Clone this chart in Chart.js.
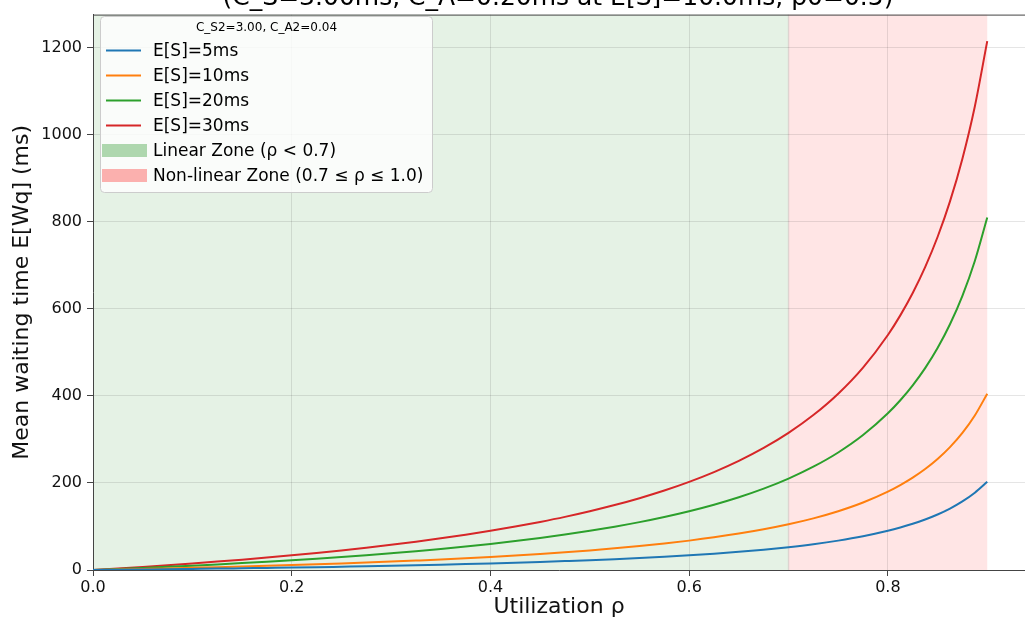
<!DOCTYPE html>
<html>
<head>
<meta charset="utf-8">
<title>Mean waiting time vs utilization</title>
<script src="https://cdn.jsdelivr.net/npm/chart.js@4.4.1/dist/chart.umd.min.js"></script>
<style>
  html, body { margin: 0; padding: 0; background: #fff; }
  #wrap { width: 1025px; height: 620px; position: relative; }
</style>
</head>
<body>
<div id="wrap"><canvas id="wq"></canvas></div>
<script>
// utilization points and mean waiting time (ms) per service time
const rho  = [0, 0.025, 0.05, 0.075, 0.1, 0.125, 0.15, 0.175, 0.2, 0.225, 0.25, 0.275, 0.3, 0.325, 0.35, 0.375,
              0.4, 0.425, 0.45, 0.475, 0.5, 0.525, 0.55, 0.575, 0.6, 0.625, 0.65, 0.675, 0.7, 0.725, 0.75, 0.775,
              0.8, 0.8125, 0.825, 0.8375, 0.85, 0.8625, 0.875, 0.8875, 0.9];
const wq5  = [0, 0.6, 1.2, 1.8, 2.5, 3.2, 4.0, 4.8, 5.6, 6.5, 7.5, 8.5, 9.6, 10.8, 12.1, 13.5,
              15.0, 16.6, 18.4, 20.4, 22.5, 24.9, 27.5, 30.4, 33.8, 37.5, 41.8, 46.7, 52.5, 59.3, 67.5, 77.5,
              90.0, 97.5, 106.1, 116.0, 127.5, 141.1, 157.5, 177.5, 202.5];
const wq10 = [0, 1.2, 2.4, 3.6, 5.0, 6.4, 7.9, 9.5, 11.3, 13.1, 15.0, 17.1, 19.3, 21.7, 24.2, 27.0,
              30.0, 33.3, 36.8, 40.7, 45.0, 49.7, 55.0, 60.9, 67.5, 75.0, 83.6, 93.5, 105.0, 118.6, 135.0, 155.0,
              180.0, 195.0, 212.1, 231.9, 255.0, 282.3, 315.0, 355.0, 405.0];
const wq20 = [0, 2.3, 4.7, 7.3, 10.0, 12.9, 15.9, 19.1, 22.5, 26.1, 30.0, 34.1, 38.6, 43.3, 48.5, 54.0,
              60.0, 66.5, 73.6, 81.4, 90.0, 99.5, 110.0, 121.8, 135.0, 150.0, 167.1, 186.9, 210.0, 237.3, 270.0, 310.0,
              360.0, 390.0, 424.3, 463.8, 510.0, 564.5, 630.0, 710.0, 810.0];
const wq30 = [0, 3.5, 7.1, 10.9, 15.0, 19.3, 23.8, 28.6, 33.8, 39.2, 45.0, 51.2, 57.9, 65.0, 72.7, 81.0,
              90.0, 99.8, 110.5, 122.1, 135.0, 149.2, 165.0, 182.6, 202.5, 225.0, 250.7, 280.4, 315.0, 355.9, 405.0, 465.0,
              540.0, 585.0, 636.4, 695.8, 765.0, 846.8, 945.0, 1065.0, 1215.0];

const seriesLabels = ['E[S]=5ms', 'E[S]=10ms', 'E[S]=20ms', 'E[S]=30ms'];
const seriesColors = ['#1f77b4', '#ff7f0e', '#2ca02c', '#d62728'];

// shaded zones [from, to] on the utilization axis
const linearZone = [0, 0.7];
const nonlinearZone = [0.7, 0.9];
const zoneLabels = ['Linear Zone (ρ < 0.7)', 'Non-linear Zone (0.7 ≤ ρ ≤ 1.0)'];

const xTicks = [0, 0.2, 0.4, 0.6, 0.8];
const yTicks = [0, 200, 400, 600, 800, 1000, 1200];

const titleText = '(C_S=3.00ms, C_A=0.20ms at E[S]=10.0ms, ρ0=0.5)';
const legendTitle = 'C_S2=3.00, C_A2=0.04';

const FONT = "'DejaVu Sans', sans-serif";

function toPoints(ys) {
    return rho.map((r, i) => ({ x: r, y: ys[i] }));
}

const zones = [
    { range: linearZone, fill: 'rgba(0,128,0,0.1)', patch: 'rgba(0,128,0,0.3)' },
    { range: nonlinearZone, fill: 'rgba(255,0,0,0.1)', patch: 'rgba(255,0,0,0.3)' }
];

// background spans, drawn under the grid
const zonePlugin = {
    id: 'zones',
    beforeDraw(chart) {
        const { ctx, chartArea: a, scales: { x } } = chart;
        ctx.save();
        zones.forEach(z => {
            const x0 = x.getPixelForValue(z.range[0]);
            const x1 = x.getPixelForValue(z.range[1]);
            ctx.fillStyle = z.fill;
            ctx.fillRect(x0, a.top, x1 - x0, a.bottom - a.top);
        });
        // faint seam where the two spans meet
        const xs = x.getPixelForValue(nonlinearZone[0]);
        ctx.strokeStyle = 'rgba(120,100,100,0.18)';
        ctx.lineWidth = 1.5;
        ctx.beginPath();
        ctx.moveTo(xs, a.top);
        ctx.lineTo(xs, a.bottom);
        ctx.stroke();
        ctx.restore();
    }
};

// top spine, clipped title and in-axes legend
const decorPlugin = {
    id: 'decor',
    afterDraw(chart) {
        const { ctx, chartArea: a } = chart;
        ctx.save();

        ctx.strokeStyle = '#444';
        ctx.lineWidth = 1;
        ctx.beginPath();
        ctx.moveTo(a.left, a.top + 0.5);
        ctx.lineTo(a.right, a.top + 0.5);
        ctx.stroke();

        ctx.fillStyle = '#000';
        ctx.font = '25px ' + FONT;
        ctx.textAlign = 'center';
        ctx.textBaseline = 'alphabetic';
        ctx.fillText(titleText, (a.left + a.right) / 2 - 1, 5);

        // legend box
        const bx = 100.5, by = 16.5, bw = 332, bh = 176;
        ctx.fillStyle = 'rgba(255,255,255,0.8)';
        ctx.strokeStyle = '#cccccc';
        ctx.lineWidth = 1;
        ctx.beginPath();
        ctx.roundRect(bx, by, bw, bh, 4);
        ctx.fill();
        ctx.stroke();

        ctx.fillStyle = '#000';
        ctx.font = '12px ' + FONT;
        ctx.textAlign = 'center';
        ctx.textBaseline = 'middle';
        ctx.fillText(legendTitle, bx + bw / 2, 28);

        ctx.font = '17px ' + FONT;
        ctx.textAlign = 'left';
        let row = 0;
        chart.data.datasets.forEach(ds => {
            const y = 50.5 + row * 25;
            ctx.strokeStyle = ds.borderColor;
            ctx.lineWidth = 2;
            ctx.beginPath();
            ctx.moveTo(106, y);
            ctx.lineTo(141, y);
            ctx.stroke();
            ctx.fillStyle = '#000';
            ctx.fillText(ds.label, 153, y + 1);
            row++;
        });
        zones.forEach((z, i) => {
            const y = 50.5 + row * 25;
            ctx.fillStyle = z.patch;
            ctx.fillRect(102, y - 6.5, 45, 13);
            ctx.fillStyle = '#000';
            ctx.fillText(zoneLabels[i], 153, y + 1);
            row++;
        });
        ctx.restore();
    }
};

const ctx = document.getElementById('wq').getContext('2d');
const wqChart = new Chart(ctx, {
    type: 'line',
    data: {
        datasets: [wq5, wq10, wq20, wq30].map((ys, i) => ({
            label: seriesLabels[i],
            data: toPoints(ys),
            borderColor: seriesColors[i],
            backgroundColor: seriesColors[i],
            borderWidth: 2,
            pointRadius: 0,
            cubicInterpolationMode: 'monotone',
            fill: false
        }))
    },
    options: {
        responsive: true,
        maintainAspectRatio: false,
        devicePixelRatio: 1,
        animation: false,
        layout: { padding: { top: 7, right: 0, left: 0, bottom: 0 } },
        plugins: {
            legend: { display: false },
            tooltip: { enabled: false }
        },
        scales: {
            x: {
                type: 'linear',
                min: 0,
                max: 0.938,
                afterBuildTicks: s => { s.ticks = xTicks.map(v => ({ value: v })); },
                afterFit: s => { s.height = 50; },
                grid: { color: 'rgba(0,0,0,0.1)', tickColor: '#444', tickLength: 6 },
                border: { color: '#444', width: 1 },
                ticks: {
                    padding: 2,
                    color: '#111',
                    font: { family: FONT, size: 16 },
                    callback: v => v.toFixed(1)
                },
                title: {
                    display: true,
                    text: 'Utilization ρ',
                    color: '#111',
                    font: { family: FONT, size: 22 },
                    padding: { top: 0, bottom: 0 }
                }
            },
            y: {
                type: 'linear',
                min: 0,
                max: 1276,
                afterBuildTicks: s => { s.ticks = yTicks.map(v => ({ value: v })); },
                afterFit: s => { s.width = 93; },
                grid: { color: 'rgba(0,0,0,0.1)', tickColor: '#444', tickLength: 6 },
                border: { color: '#444', width: 1 },
                ticks: {
                    padding: 5,
                    color: '#111',
                    font: { family: FONT, size: 16 },
                    callback: v => String(v)
                },
                title: {
                    display: true,
                    text: 'Mean waiting time E[Wq] (ms)',
                    color: '#111',
                    font: { family: FONT, size: 22 },
                    padding: { top: 9, bottom: 0 }
                }
            }
        }
    },
    plugins: [zonePlugin, decorPlugin]
});
</script>
</body>
</html>
